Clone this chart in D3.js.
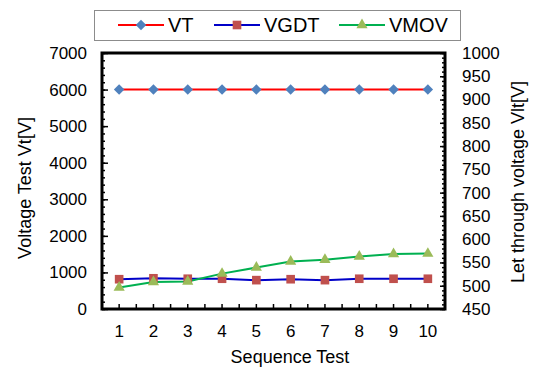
<!DOCTYPE html>
<html>
<head>
<meta charset="utf-8">
<script src="https://cdn.jsdelivr.net/npm/d3@7"></script>
<style>
  body { margin: 0; background: #fff; }
  svg { display: block; font-family: "Liberation Sans", Arial, sans-serif; }
</style>
</head>
<body>
<div id="chart"></div>
<script>
var categories = [1, 2, 3, 4, 5, 6, 7, 8, 9, 10];
var vt_values   = [6000, 6000, 6000, 6000, 6000, 6000, 6000, 6000, 6000, 6000];
var vgdt_values = [514, 516, 515, 515, 512, 514, 512, 515, 515, 515];
var vmov_values = [496, 508, 509, 526, 539, 552, 556, 563, 568, 569];
var left_ticks  = [0, 1000, 2000, 3000, 4000, 5000, 6000, 7000];
var right_ticks = [450, 500, 550, 600, 650, 700, 750, 800, 850, 900, 950, 1000];

var chart = {
  width: 541,
  height: 375,
  left: 102,
  right: 445,
  top: 53,
  bottom: 309
};

var svg = d3.select("#chart").append("svg")
  .attr("width", chart.width)
  .attr("height", chart.height);

var x = d3.scalePoint()
  .domain(categories)
  .range([chart.left, chart.right])
  .padding(0.5);

var y_left = d3.scaleLinear()
  .domain([0, 7000])
  .range([chart.bottom, chart.top]);

var y_right = d3.scaleLinear()
  .domain([450, 1000])
  .range([chart.bottom, chart.top]);

// minor ticks first, then majors on top
svg.append("g")
  .attr("transform", "translate(" + chart.left + ",0)")
  .call(d3.axisRight(y_left).tickValues(d3.range(0, 7001, 200)).tickSize(3).tickFormat(""))
  .call(function(g) { g.select(".domain").remove(); });

svg.append("g")
  .attr("transform", "translate(" + chart.left + ",0)")
  .call(d3.axisRight(y_left).tickValues(left_ticks).tickSize(6).tickFormat(""))
  .call(function(g) { g.select(".domain").remove(); });

svg.append("g")
  .attr("transform", "translate(" + chart.right + ",0)")
  .call(d3.axisLeft(y_right).tickValues(d3.range(450, 1001, 10)).tickSize(3).tickFormat(""))
  .call(function(g) { g.select(".domain").remove(); });

svg.append("g")
  .attr("transform", "translate(" + chart.right + ",0)")
  .call(d3.axisLeft(y_right).tickValues(right_ticks).tickSize(5).tickFormat(""))
  .call(function(g) { g.select(".domain").remove(); });

// bottom ticks: at category centres and band edges
var step = x.step();
var bottom_tick_pos = [];
categories.forEach(function(c) {
  bottom_tick_pos.push(x(c) - step / 2);
  bottom_tick_pos.push(x(c));
});

svg.append("g")
  .selectAll("line")
  .data(bottom_tick_pos)
  .enter().append("line")
  .attr("x1", function(d) { return d; })
  .attr("x2", function(d) { return d; })
  .attr("y1", chart.bottom)
  .attr("y2", chart.bottom - 5)
  .style("stroke", "#000")
  .style("stroke-width", 1.5);

svg.selectAll(".tick line").style("stroke", "#000").style("stroke-width", 1.5);

// tick labels
svg.append("g")
  .selectAll("text")
  .data(left_ticks)
  .enter().append("text")
  .attr("x", 87)
  .attr("y", function(d) { return y_left(d); })
  .attr("dy", "0.35em")
  .style("text-anchor", "end")
  .style("font-size", "17px")
  .style("fill", "#000")
  .text(function(d) { return d; });

svg.append("g")
  .selectAll("text")
  .data(right_ticks)
  .enter().append("text")
  .attr("x", 462)
  .attr("y", function(d) { return y_right(d); })
  .attr("dy", "0.35em")
  .style("text-anchor", "start")
  .style("font-size", "17px")
  .style("fill", "#000")
  .text(function(d) { return d; });

svg.append("g")
  .selectAll("text")
  .data(categories)
  .enter().append("text")
  .attr("x", function(d) { return x(d); })
  .attr("y", 337)
  .style("text-anchor", "middle")
  .style("font-size", "17px")
  .style("fill", "#000")
  .text(function(d) { return d; });

// axis titles
svg.append("text")
  .attr("x", 290)
  .attr("y", 363)
  .style("text-anchor", "middle")
  .style("font-size", "18px")
  .text("Sequence Test");

svg.append("text")
  .attr("transform", "translate(31," + 188 + ") rotate(-90)")
  .style("text-anchor", "middle")
  .style("font-size", "18px")
  .text("Voltage Test Vt[V]");

svg.append("text")
  .attr("transform", "translate(524," + 182 + ") rotate(-90)")
  .style("text-anchor", "middle")
  .style("font-size", "18px")
  .text("Let through voltage Vlt[V]");

// series
var series = [
  { name: "VT",   values: vt_values,   scale: y_left,  line: "#FF0000", marker: "#4F81BD", symbol: d3.symbolDiamond2, size: 70 },
  { name: "VGDT", values: vgdt_values, scale: y_right, line: "#0000C8", marker: "#C0504D", symbol: d3.symbolSquare2,  size: 95 },
  { name: "VMOV", values: vmov_values, scale: y_right, line: "#00B050", marker: "#9BBB59", symbol: d3.symbolTriangle2, size: 90 }
];

series.forEach(function(s) {
  var line = d3.line()
    .x(function(d, i) { return x(categories[i]); })
    .y(function(d) { return s.scale(d); });

  svg.append("path")
    .datum(s.values)
    .attr("d", line)
    .style("fill", "none")
    .style("stroke", s.line)
    .style("stroke-width", 2);
});

series.forEach(function(s) {
  svg.append("g")
    .selectAll("path")
    .data(s.values)
    .enter().append("path")
    .attr("transform", function(d, i) {
      return "translate(" + x(categories[i]) + "," + s.scale(d) + ")";
    })
    .attr("d", d3.symbol().type(s.symbol).size(s.size))
    .style("fill", s.marker);
});

// frame
svg.append("rect")
  .attr("x", chart.left)
  .attr("y", chart.top)
  .attr("width", chart.right - chart.left)
  .attr("height", chart.bottom - chart.top)
  .style("fill", "none")
  .style("stroke", "#000")
  .style("stroke-width", 3);

// legend
var legend = svg.append("g");

legend.append("rect")
  .attr("x", 94.5)
  .attr("y", 10.5)
  .attr("width", 366)
  .attr("height", 30)
  .style("fill", "#fff")
  .style("stroke", "#8c8c8c")
  .style("stroke-width", 1);

var legend_x = [118, 214, 339];

series.forEach(function(s, i) {
  var lx = legend_x[i];
  legend.append("line")
    .attr("x1", lx)
    .attr("x2", lx + 46)
    .attr("y1", 25)
    .attr("y2", 25)
    .style("stroke", s.line)
    .style("stroke-width", 2);

  legend.append("path")
    .attr("transform", "translate(" + (lx + 23) + ",25)")
    .attr("d", d3.symbol().type(s.symbol).size(s.size))
    .style("fill", s.marker);

  legend.append("text")
    .attr("x", lx + 50)
    .attr("y", 25)
    .attr("dy", "0.36em")
    .style("font-size", "20px")
    .text(s.name);
});
</script>
</body>
</html>
